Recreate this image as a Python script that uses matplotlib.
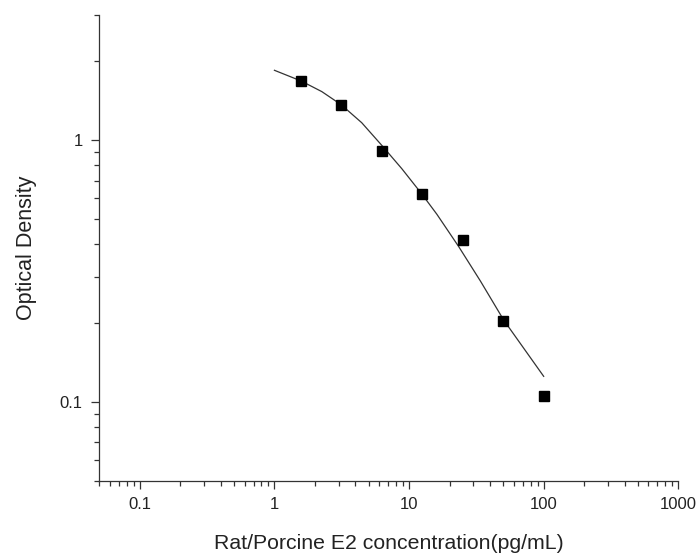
import matplotlib
matplotlib.use("Agg")
import matplotlib.pyplot as plt
from matplotlib.ticker import LogLocator, FixedLocator, FixedFormatter, NullFormatter

plt.rcParams['font.family'] = ['Liberation Sans', 'DejaVu Sans']

# Standard points (concentration pg/mL, optical density)
conc = [1.5625, 3.125, 6.25, 12.5, 25, 50, 100]
od = [1.675, 1.366, 0.910, 0.623, 0.415, 0.204, 0.1056]

# Fitted curve
fit_x = [1.0, 1.58, 2.25, 3.13, 4.45, 6.27, 8.83, 12.4, 16.1, 23.4, 33.9, 50.5, 100]
fit_y = [1.846, 1.68, 1.53, 1.364, 1.164, 0.954, 0.777, 0.623, 0.52, 0.391, 0.289, 0.205, 0.125]

x_ticks = [0.1, 1, 10, 100, 1000]
x_ticklabels = ["0.1", "1", "10", "100", "1000"]
y_ticks = [0.1, 1]
y_ticklabels = ["0.1", "1"]

fig = plt.figure(figsize=(6.97, 5.57), dpi=100)
ax = fig.add_axes([99.3 / 697, 76.5 / 557, 579 / 697, 465.4 / 557])

ax.plot(fit_x, fit_y, color='#333333', lw=0.9, zorder=2)
ax.plot(conc, od, linestyle='none', marker='s', markersize=7.2,
        color='black', zorder=3)

ax.set_xscale('log')
ax.set_yscale('log')
ax.set_xlim(0.05, 1000)
ax.set_ylim(0.05, 3)

ax.xaxis.set_major_locator(FixedLocator(x_ticks))
ax.xaxis.set_major_formatter(FixedFormatter(x_ticklabels))
ax.xaxis.set_minor_locator(LogLocator(base=10, subs=range(2, 10), numticks=20))
ax.xaxis.set_minor_formatter(NullFormatter())
ax.yaxis.set_major_locator(FixedLocator(y_ticks))
ax.yaxis.set_major_formatter(FixedFormatter(y_ticklabels))
ax.yaxis.set_minor_locator(LogLocator(base=10, subs=range(2, 10), numticks=20))
ax.yaxis.set_minor_formatter(NullFormatter())

for s in ['top', 'right']:
    ax.spines[s].set_visible(False)
for s in ['left', 'bottom']:
    ax.spines[s].set_color('#333333')
    ax.spines[s].set_linewidth(0.9)

ax.tick_params(axis='both', which='major', direction='out', length=6,
               width=0.9, color='#333333', labelsize=12, labelcolor='#222222', pad=6)
ax.tick_params(axis='both', which='minor', direction='out', length=3.5,
               width=0.9, color='#333333')

ax.set_xlabel('Rat/Porcine E2 concentration(pg/mL)', fontsize=15.3, color='#222222', labelpad=16)
ax.set_ylabel('Optical Density', fontsize=15.5, color='#222222', labelpad=16)

fig.savefig('out.png', dpi=100)
